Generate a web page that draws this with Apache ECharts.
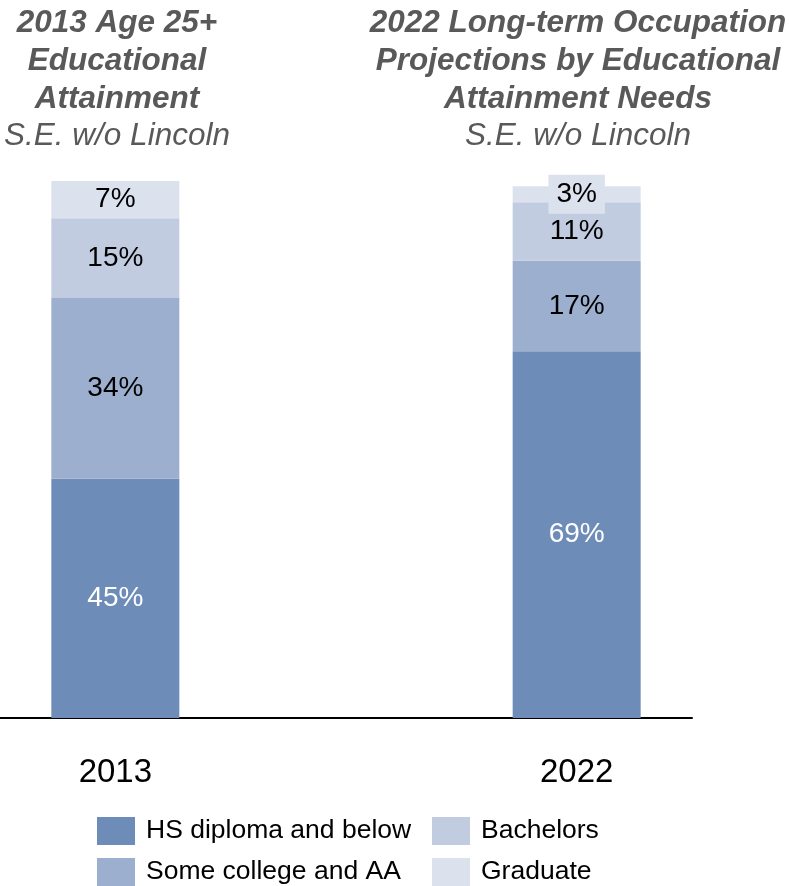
<!DOCTYPE html>
<html>
<head>
<meta charset="utf-8">
<script src="https://cdn.jsdelivr.net/npm/echarts@6/dist/echarts.min.js"></script>
<style>
  html, body { margin: 0; padding: 0; background: #fff; }
  #chart { width: 789px; height: 886px; }
</style>
</head>
<body>
<div id="chart"></div>
<script>
// Years shown on the horizontal axis
const years = ['2013', '2022'];

// Share of each education level (percent), one value per year
const hsDiplomaAndBelow = [45, 69];
const someCollegeAndAA = [34, 17];
const bachelors = [15, 11];
const graduate = [7, 3];

const seriesNames = ['HS diploma and below', 'Some college and AA', 'Bachelors', 'Graduate'];
const seriesValues = [hsDiplomaAndBelow, someCollegeAndAA, bachelors, graduate];
const seriesColors = ['#6d8cb8', '#9dafce', '#c2cce0', '#dce2ed'];
const labelColors = ['#ffffff', '#000000', '#000000', '#000000'];

const FONT = '"Liberation Sans", Arial, sans-serif';

// The axis has an empty slot between the two years to space the bars apart
const axisCategories = [years[0], '', years[1]];
const withGap = arr => [arr[0], null, arr[1]];

const series = seriesNames.map((name, s) => ({
  name,
  type: 'bar',
  stack: 'total',
  barWidth: 128,
  itemStyle: { color: seriesColors[s] },
  label: {
    show: true,
    position: 'inside',
    formatter: '{c}%',
    color: labelColors[s],
    fontFamily: FONT,
    fontSize: 28
  },
  data: withGap(seriesValues[s]).map(v => {
    // A thin segment keeps its label readable on a tinted box
    if (v !== null && v < 5) {
      return { value: v, label: { backgroundColor: seriesColors[s], padding: [7, 8, 4, 8] } };
    }
    return v;
  })
}));

const titleStyle = { fontFamily: FONT, fontSize: 31.5, fontWeight: 'bold', fontStyle: 'italic', color: '#595959', lineHeight: 38 };
const subStyle = { fontFamily: FONT, fontSize: 31.5, fontStyle: 'italic', color: '#595959', lineHeight: 38 };

// One legend entry per slot: two columns, two rows
const legendSlots = [
  { name: seriesNames[0], left: 97, top: 817 },
  { name: seriesNames[1], left: 97, top: 858 },
  { name: seriesNames[2], left: 432, top: 817 },
  { name: seriesNames[3], left: 432, top: 858 }
];

const chart = echarts.init(document.getElementById('chart'), null, { renderer: 'canvas' });
chart.setOption({
  animation: false,
  backgroundColor: '#ffffff',
  title: [
    {
      text: '2013 Age 25+\nEducational\nAttainment',
      subtext: 'S.E. w/o Lincoln',
      left: 112,
      top: -1,
      textAlign: 'center',
      itemGap: -1,
      textStyle: titleStyle,
      subtextStyle: subStyle
    },
    {
      text: '2022 Long-term Occupation\nProjections by Educational\nAttainment Needs',
      subtext: 'S.E. w/o Lincoln',
      left: 573,
      top: -1,
      textAlign: 'center',
      itemGap: -1,
      textStyle: titleStyle,
      subtextStyle: subStyle
    }
  ],
  legend: legendSlots.map(slot => ({
    data: [slot.name],
    left: slot.left,
    top: slot.top,
    padding: 0,
    itemWidth: 38,
    itemHeight: 28,
    icon: 'rect',
    textStyle: { fontFamily: FONT, fontSize: 26.5, color: '#000', padding: [0, 0, 0, 6] }
  })),
  grid: { left: 0, right: 97, top: 181, bottom: 168 },
  xAxis: {
    type: 'category',
    data: axisCategories,
    axisLine: { show: true, lineStyle: { color: '#000', width: 2 } },
    axisTick: { show: false },
    axisLabel: { margin: 38, fontFamily: FONT, fontSize: 33, color: '#000' }
  },
  yAxis: { type: 'value', min: 0, max: 101, show: false },
  series
});
</script>
</body>
</html>
